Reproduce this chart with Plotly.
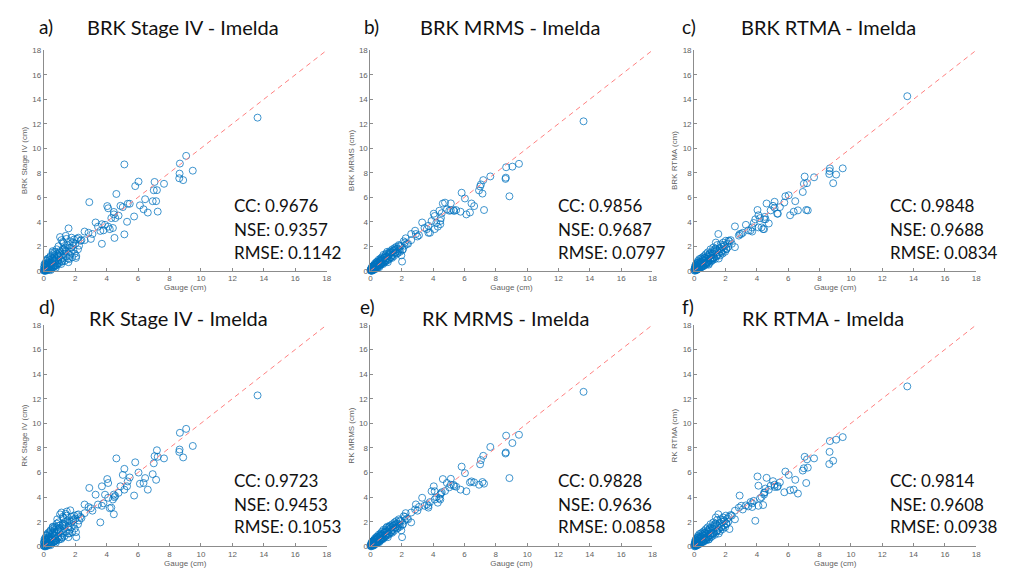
import plotly.graph_objects as go

W, H = 1015, 575

# Gauge accumulation (cm), shared by every product comparison
gauge = [
    0.01, 0.03, 0.04, 0.06, 0.08, 0.09, 0.11, 0.13, 0.14, 0.17,
    0.19, 0.21, 0.23, 0.24, 0.27, 0.29, 0.31, 0.33, 0.36, 0.38,
    0.41, 0.43, 0.46, 0.48, 0.51, 0.53, 0.56, 0.59, 0.61, 0.64,
    0.67, 0.69, 0.72, 0.74, 0.77, 0.79, 0.83, 0.86, 0.88, 0.91,
    0.94, 0.97, 1.01, 1.04, 1.07, 1.09, 1.13, 1.16, 1.19, 1.22,
    1.26, 1.29, 1.33, 1.36, 1.40, 1.43, 1.47, 1.50, 1.54, 1.58,
    1.61, 1.65, 1.69, 1.73, 1.77, 1.81, 1.85, 1.89, 1.93, 1.97,
    2.02, 2.07, 2.12, 2.18, 2.25, 2.33, 0.05, 0.12, 0.18, 0.26,
    0.34, 0.44, 0.57, 0.66, 0.81, 0.93, 1.11, 1.24, 1.38, 1.57,
    13.6, 9.48, 9.06, 8.66, 8.64, 8.62, 8.87, 7.65, 7.05, 7.20,
    7.00, 6.93, 7.15, 7.25, 6.03, 5.82, 6.45, 6.35, 6.62, 6.12,
    5.75, 5.13, 5.13, 5.34, 5.47, 4.62, 4.88, 5.03, 4.04, 4.10,
    4.46, 4.46, 4.30, 4.76, 4.40, 3.30, 3.70, 3.90, 4.10, 3.60,
    3.80, 4.50, 3.70, 2.90, 2.60, 2.85, 3.10, 2.20, 2.40, 2.60,
    3.45, 3.00, 5.30, 4.55, 4.20,
    0.02, 0.07, 0.10, 0.15, 0.20, 0.22, 0.28, 0.32, 0.37, 0.40,
    0.45, 0.50, 0.54, 0.58, 0.63, 0.68, 0.71, 0.76, 0.84, 0.89,
    0.96, 1.03, 1.15, 1.21, 1.31, 1.45, 1.63, 1.75, 1.87, 2.05,
]

brk_stage4 = [
    0.02, 0.10, 0.00, 0.35, 0.05, 0.15, 0.60, 0.02, 0.25, 0.45,
    0.08, 0.80, 0.30, 0.05, 0.55, 1.00, 0.20, 0.65, 0.10, 0.90,
    0.40, 1.20, 0.25, 0.70, 0.15, 0.95, 0.50, 1.35, 0.30, 0.80,
    1.10, 0.45, 1.55, 0.70, 0.25, 1.00, 1.75, 0.55, 1.30, 0.85,
    2.00, 0.60, 1.45, 2.75, 0.90, 1.20, 2.50, 0.75, 1.65, 1.05,
    2.25, 1.40, 0.80, 1.90, 2.85, 1.15, 1.60, 2.10, 1.00, 3.46,
    1.85, 1.30, 2.40, 1.55, 2.70, 1.10, 2.05, 1.70, 2.55, 1.40,
    2.20, 1.20, 2.60, 1.75, 2.05, 2.45, 0.55, 0.00, 0.85, 0.15,
    0.50, 0.05, 1.60, 0.35, 0.45, 1.25, 0.55, 1.80, 1.60, 0.70,
    12.5, 8.17, 9.38, 8.75, 7.93, 7.55, 7.40, 7.10, 7.25, 6.58,
    6.57, 5.68, 5.68, 4.83, 7.28, 6.91, 5.84, 5.02, 4.75, 5.34,
    4.43, 8.68, 2.97, 5.47, 5.47, 6.27, 5.30, 5.20, 5.28, 5.10,
    4.80, 4.60, 4.30, 4.50, 3.49, 3.94, 3.80, 3.75, 3.60, 3.25,
    3.30, 2.68, 2.20, 5.60, 3.20, 3.10, 3.00, 2.70, 2.50, 2.50,
    3.60, 2.60, 4.00, 4.30, 3.40,
    0.30, 0.05, 0.50, 0.10, 0.40, 0.95, 0.15, 0.70, 0.35, 1.10,
    0.60, 0.30, 0.85, 1.50, 0.45, 1.25, 0.90, 0.40, 1.40, 0.60,
    1.15, 1.60, 0.80, 2.35, 1.75, 2.60, 0.95, 1.90, 2.30, 1.05,
]

brk_mrms = [
    0.02, 0.15, 0.05, 0.20, 0.00, 0.30, 0.10, 0.25, 0.05, 0.40,
    0.15, 0.35, 0.10, 0.45, 0.25, 0.60, 0.20, 0.50, 0.30, 0.70,
    0.35, 0.75, 0.25, 0.60, 0.45, 0.90, 0.40, 0.80, 0.55, 1.00,
    0.50, 0.95, 0.60, 1.10, 0.70, 0.85, 1.30, 0.65, 1.05, 0.80,
    1.25, 0.75, 1.40, 1.00, 1.55, 0.85, 1.20, 1.45, 0.95, 1.35,
    1.60, 1.10, 1.50, 1.25, 1.75, 1.30, 1.65, 1.20, 1.85, 1.45,
    1.50, 1.95, 1.40, 1.80, 1.60, 2.10, 1.70, 1.55, 2.00, 1.26,
    0.75, 1.75, 2.40, 2.05, 2.65, 2.20, 0.10, 0.35, 0.05, 0.50,
    0.15, 0.65, 0.30, 0.85, 0.55, 1.15, 0.70, 1.50, 1.05, 1.70,
    12.2, 8.73, 8.50, 8.45, 7.60, 7.50, 6.08, 7.70, 7.05, 7.40,
    6.88, 6.56, 6.30, 4.96, 5.90, 6.37, 5.49, 4.76, 5.28, 4.60,
    4.82, 5.50, 4.93, 4.88, 4.95, 5.49, 5.00, 4.90, 4.66, 4.47,
    4.07, 3.80, 3.60, 5.56, 4.90, 3.94, 3.67, 4.06, 3.40, 3.40,
    3.10, 4.30, 3.10, 3.00, 3.00, 3.27, 2.90, 2.30, 2.20, 2.50,
    3.50, 2.80, 4.96, 4.70, 3.90,
    0.10, 0.00, 0.20, 0.30, 0.15, 0.40, 0.20, 0.45, 0.30, 0.55,
    0.35, 0.65, 0.45, 0.75, 0.55, 0.80, 0.60, 0.90, 0.70, 1.05,
    0.85, 1.15, 1.00, 1.35, 1.10, 1.60, 1.80, 1.45, 2.05, 1.70,
]

brk_rtma = [
    0.05, 0.20, 0.00, 0.35, 0.10, 0.50, 0.15, 0.05, 0.40, 0.25,
    0.65, 0.10, 0.40, 0.80, 0.20, 0.55, 0.30, 0.95, 0.25, 0.60,
    0.45, 1.00, 0.30, 0.70, 0.55, 1.10, 0.40, 0.85, 0.60, 1.20,
    0.45, 0.90, 0.65, 1.35, 0.50, 1.00, 0.70, 1.50, 0.80, 1.15,
    0.60, 1.40, 0.90, 1.75, 0.75, 1.25, 1.60, 0.85, 1.35, 1.90,
    1.05, 1.55, 0.95, 1.80, 1.20, 1.65, 2.10, 1.30, 3.00, 1.50,
    1.75, 1.25, 2.15, 1.60, 1.95, 1.40, 2.30, 1.70, 2.00, 1.55,
    2.45, 1.80, 2.20, 1.95, 2.40, 2.50, 0.15, 0.45, 0.10, 0.70,
    0.20, 0.75, 0.35, 1.05, 0.60, 0.50, 1.00, 1.10, 2.30, 1.00,
    14.25, 8.36, 7.85, 8.36, 8.14, 7.90, 7.15, 7.63, 7.69, 7.15,
    7.10, 6.43, 4.96, 4.93, 6.16, 6.08, 5.68, 4.82, 4.93, 4.53,
    5.57, 5.63, 5.14, 4.66, 5.20, 5.49, 4.93, 5.30, 4.96, 4.53,
    4.20, 3.40, 3.54, 3.86, 3.40, 3.75, 3.54, 4.20, 3.54, 3.30,
    3.90, 4.40, 3.20, 3.00, 3.62, 2.87, 3.10, 2.46, 2.20, 1.93,
    3.30, 3.00, 4.66, 4.20, 4.30,
    0.15, 0.30, 0.05, 0.45, 0.25, 0.60, 0.35, 0.20, 0.55, 0.75,
    0.30, 0.70, 0.95, 0.45, 0.80, 0.55, 1.05, 0.65, 1.20, 0.70,
    1.30, 0.85, 1.45, 1.00, 1.70, 1.20, 1.85, 1.50, 2.10, 1.75,
]

rk_stage4 = [
    0.05, 0.30, 0.00, 0.45, 0.10, 0.20, 0.70, 0.05, 0.35, 0.55,
    0.10, 0.90, 0.25, 0.05, 0.60, 1.10, 0.30, 0.75, 0.15, 1.00,
    0.45, 1.30, 0.20, 0.80, 0.30, 1.05, 0.55, 1.45, 0.35, 0.90,
    1.20, 0.40, 1.60, 0.65, 0.30, 1.15, 1.85, 2.20, 1.35, 0.75,
    1.95, 0.55, 1.50, 2.60, 0.85, 1.25, 2.75, 0.70, 1.70, 1.10,
    2.30, 1.45, 0.85, 2.00, 2.65, 1.20, 2.83, 2.10, 1.05, 1.65,
    1.90, 1.35, 2.93, 1.55, 2.40, 1.15, 2.10, 1.75, 2.50, 1.45,
    2.25, 0.75, 2.55, 1.80, 2.10, 2.40, 0.60, 0.00, 0.90, 0.20,
    0.65, 0.10, 1.55, 0.40, 0.50, 1.40, 0.60, 1.85, 1.70, 0.75,
    12.27, 8.16, 9.55, 9.23, 7.87, 7.68, 7.23, 7.15, 7.33, 7.81,
    6.75, 5.87, 5.41, 7.28, 6.00, 6.83, 5.55, 5.15, 4.61, 5.09,
    4.13, 6.30, 4.61, 5.28, 5.60, 7.15, 4.88, 5.81, 5.47, 5.15,
    4.21, 2.61, 3.15, 4.35, 3.81, 4.20, 4.88, 4.20, 3.95, 1.95,
    3.50, 4.00, 3.30, 4.75, 3.40, 3.20, 2.90, 2.60, 2.30, 2.70,
    3.40, 3.10, 4.88, 4.10, 3.10,
    0.35, 0.05, 0.55, 0.15, 0.45, 1.00, 0.20, 0.75, 0.30, 1.20,
    0.65, 0.25, 0.95, 1.60, 0.50, 1.35, 0.85, 0.45, 1.55, 0.65,
    1.25, 1.70, 0.75, 2.40, 1.80, 2.50, 1.05, 2.00, 2.20, 1.15,
]

rk_mrms = [
    0.05, 0.20, 0.00, 0.25, 0.05, 0.35, 0.10, 0.30, 0.10, 0.45,
    0.15, 0.40, 0.10, 0.50, 0.30, 0.65, 0.20, 0.55, 0.35, 0.75,
    0.35, 0.80, 0.30, 0.65, 0.45, 0.95, 0.40, 0.85, 0.55, 1.05,
    0.50, 1.00, 0.60, 1.20, 0.65, 0.90, 1.35, 0.70, 1.10, 0.85,
    1.30, 0.80, 1.50, 1.00, 1.60, 0.90, 1.25, 1.55, 1.00, 1.40,
    1.70, 1.15, 1.55, 1.30, 1.80, 1.35, 1.70, 1.25, 1.95, 1.50,
    1.55, 2.05, 1.45, 1.85, 1.65, 2.20, 1.75, 1.60, 2.05, 1.30,
    0.75, 1.80, 2.45, 2.10, 2.70, 2.25, 0.15, 0.40, 0.05, 0.55,
    0.20, 0.70, 0.35, 0.90, 0.60, 1.20, 0.75, 1.60, 1.10, 1.75,
    12.56, 9.07, 8.40, 9.00, 7.63, 7.55, 5.55, 8.08, 7.01, 7.36,
    6.67, 5.01, 5.23, 5.10, 5.95, 6.48, 5.28, 5.20, 5.20, 4.48,
    4.61, 5.49, 5.01, 4.90, 4.85, 5.47, 5.15, 4.80, 4.88, 4.48,
    4.21, 3.81, 3.55, 4.50, 3.90, 3.95, 3.15, 4.48, 3.81, 3.41,
    3.60, 4.30, 3.30, 3.41, 2.75, 3.00, 3.20, 2.40, 2.20, 1.95,
    3.30, 2.90, 5.00, 4.40, 4.00,
    0.05, 0.10, 0.25, 0.30, 0.20, 0.45, 0.25, 0.40, 0.35, 0.60,
    0.40, 0.70, 0.45, 0.80, 0.60, 0.85, 0.65, 0.95, 0.75, 1.10,
    0.90, 1.20, 1.05, 1.40, 1.15, 1.65, 1.85, 1.50, 2.10, 1.75,
]

rk_rtma = [
    0.05, 0.25, 0.00, 0.40, 0.10, 0.55, 0.15, 0.05, 0.45, 0.25,
    0.70, 0.10, 0.45, 0.85, 0.20, 0.60, 0.30, 1.00, 0.25, 0.65,
    0.45, 1.05, 0.30, 0.75, 0.55, 1.15, 0.40, 0.90, 0.60, 1.25,
    0.45, 0.95, 0.65, 1.40, 0.50, 1.05, 0.70, 1.55, 0.80, 1.20,
    0.60, 1.45, 0.90, 1.80, 0.75, 1.30, 1.65, 0.85, 1.40, 1.95,
    1.05, 1.60, 0.95, 1.85, 1.20, 1.70, 2.15, 1.30, 2.61, 1.50,
    1.80, 1.25, 2.20, 1.60, 2.00, 1.40, 2.35, 1.70, 2.05, 1.55,
    2.50, 1.85, 2.25, 2.00, 1.41, 2.55, 0.15, 0.50, 0.10, 0.75,
    0.20, 0.80, 0.35, 1.10, 0.60, 0.55, 1.05, 1.15, 2.35, 1.05,
    13.0, 8.88, 8.67, 8.56, 7.68, 6.69, 6.96, 7.15, 7.28, 7.07,
    6.35, 6.16, 5.15, 6.40, 5.81, 6.08, 5.41, 4.61, 4.29, 4.56,
    4.40, 5.01, 4.83, 4.90, 5.20, 5.57, 4.93, 5.30, 5.68, 4.93,
    4.35, 4.21, 4.00, 4.60, 3.36, 3.33, 3.20, 2.08, 3.30, 3.60,
    3.70, 4.40, 3.50, 4.13, 2.90, 3.15, 3.00, 2.40, 2.50, 2.20,
    3.25, 3.30, 4.83, 4.70, 3.90,
    0.15, 0.35, 0.05, 0.50, 0.25, 0.65, 0.35, 0.20, 0.60, 0.80,
    0.35, 0.75, 1.00, 0.45, 0.85, 0.55, 1.10, 0.70, 1.25, 0.75,
    1.35, 0.90, 1.50, 1.05, 1.75, 1.25, 1.90, 1.55, 2.15, 1.80,
]

letters = ["a)", "b)", "c)", "d)", "e)", "f)"]
titles = ["BRK Stage IV - Imelda", "BRK MRMS - Imelda", "BRK RTMA - Imelda",
          "RK Stage IV - Imelda", "RK MRMS - Imelda", "RK RTMA - Imelda"]
y_titles = ["BRK Stage IV (cm)", "BRK MRMS (cm)", "BRK RTMA (cm)",
            "RK Stage IV (cm)", "RK MRMS (cm)", "RK RTMA (cm)"]
estimates = [brk_stage4, brk_mrms, brk_rtma, rk_stage4, rk_mrms, rk_rtma]
cc = [0.9676, 0.9856, 0.9848, 0.9723, 0.9828, 0.9814]
nse = [0.9357, 0.9687, 0.9688, 0.9453, 0.9636, 0.9608]
rmse = [0.1142, 0.0797, 0.0834, 0.1053, 0.0858, 0.0938]
axis_ticks = list(range(0, 19, 2))

# Panel geometry in pixels
col_px = [(42, 327), (371, 655), (697, 981)]
row_px = [(47, 271), (326, 551)]
letter_x = [35, 362, 683, 35, 358, 683]
letter_y = [23, 23, 23, 307, 307, 307]
title_x = [182, 512, 832, 178, 507, 827]
title_y = [23, 23, 23, 319, 319, 319]
stat_x = [232, 558, 892, 232, 558, 892]
stat_y = [[205, 229, 252], [484, 508, 531]]


def px(x):
    return x / W


def py(y):
    return 1 - y / H


TEXT_FONT = "Lato, 'Open Sans', sans-serif"
TICK_FONT = "'Liberation Sans', Arial, sans-serif"
AXIS_GRAY = "#8c8c8c"
LABEL_GRAY = "#5f5f5f"

fig = go.Figure()
annotations = []
layout = {}

for i in range(6):
    r, c = divmod(i, 3)
    n = i + 1
    xa = "x" if n == 1 else f"x{n}"
    ya = "y" if n == 1 else f"y{n}"

    fig.add_trace(go.Scatter(
        x=gauge, y=estimates[i], xaxis=xa, yaxis=ya, mode="markers",
        marker=dict(symbol="circle-open", size=7, color="#0072BD",
                    line=dict(width=0.75, color="#0072BD")),
        cliponaxis=False, showlegend=False, hoverinfo="skip",
    ))
    # 1:1 reference line
    fig.add_trace(go.Scatter(
        x=[0, 18], y=[0, 18], xaxis=xa, yaxis=ya, mode="lines",
        line=dict(color="#ff8080", width=1, dash="5px,4px"),
        showlegend=False, hoverinfo="skip",
    ))

    x0, x1 = col_px[c]
    yt, yb = row_px[r]
    common = dict(range=[0, 18], tickvals=axis_ticks, ticks="inside", ticklen=3,
                  tickcolor=AXIS_GRAY, showline=True, linecolor=AXIS_GRAY,
                  linewidth=1, showgrid=False, zeroline=False, mirror=False,
                  tickfont=dict(family=TICK_FONT, size=8, color=LABEL_GRAY))
    layout["xaxis" if n == 1 else f"xaxis{n}"] = dict(
        common, domain=[px(x0), px(x1)], anchor=ya,
        title=dict(text="Gauge (cm)", standoff=2,
                   font=dict(family=TICK_FONT, size=8, color=LABEL_GRAY)))
    layout["yaxis" if n == 1 else f"yaxis{n}"] = dict(
        common, domain=[py(yb), py(yt)], anchor=xa,
        title=dict(text=y_titles[i], standoff=3,
                   font=dict(family=TICK_FONT, size=8, color=LABEL_GRAY)))

    annotations.append(dict(text=letters[i], x=px(letter_x[i]), y=py(letter_y[i]),
                            xref="paper", yref="paper", xanchor="left", yanchor="middle",
                            showarrow=False, font=dict(family=TEXT_FONT, size=19, color="#111")))
    annotations.append(dict(text=titles[i], x=px(title_x[i]), y=py(title_y[i]),
                            xref="paper", yref="paper", xanchor="center", yanchor="middle",
                            showarrow=False, font=dict(family=TEXT_FONT, size=20, color="#111")))
    stats = [f"CC: {cc[i]:.4f}", f"NSE: {nse[i]:.4f}", f"RMSE: {rmse[i]:.4f}"]
    for k, s in enumerate(stats):
        annotations.append(dict(text=s, x=px(stat_x[i]), y=py(stat_y[r][k]),
                                xref="paper", yref="paper", xanchor="left", yanchor="middle",
                                showarrow=False, font=dict(family=TEXT_FONT, size=17, color="#111")))

fig.update_layout(
    width=W, height=H, autosize=False,
    margin=dict(l=0, r=0, t=0, b=0),
    paper_bgcolor="white", plot_bgcolor="white",
    annotations=annotations,
    **layout,
)

fig.write_html("out.html")
